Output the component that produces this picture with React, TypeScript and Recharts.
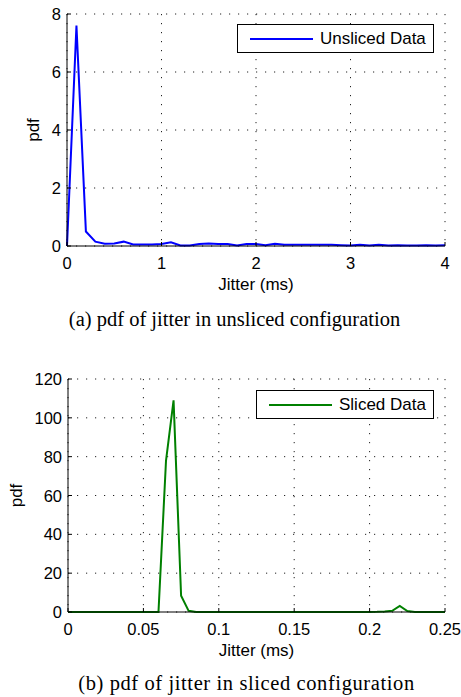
import React from 'react'
import {
    LineChart,
    Line,
    XAxis,
    YAxis,
    CartesianGrid,
    Legend,
} from 'recharts'

// (a) unsliced jitter, sampled every 0.1 ms
const unslicedJitter = [
    0, 0.1, 0.2, 0.3, 0.4, 0.5, 0.6, 0.7, 0.8, 0.9,
    1.0, 1.1, 1.2, 1.3, 1.4, 1.5, 1.6, 1.7, 1.8, 1.9,
    2.0, 2.1, 2.2, 2.3, 2.4, 2.5, 2.6, 2.7, 2.8, 2.9,
    3.0, 3.1, 3.2, 3.3, 3.4, 3.5, 3.6, 3.7, 3.8, 3.9, 4.0,
]
const unslicedPdf = [
    0, 7.6, 0.5, 0.15, 0.08, 0.09, 0.15, 0.05, 0.05, 0.05,
    0.07, 0.13, 0.02, 0.02, 0.07, 0.09, 0.07, 0.07, 0.02, 0.07,
    0.07, 0.03, 0.08, 0.04, 0.04, 0.04, 0.04, 0.04, 0.04, 0.03,
    0.02, 0.04, 0.02, 0.04, 0.02, 0.03, 0.02, 0.02, 0.03, 0.02, 0.03,
]
const unslicedXTicks = [0, 1, 2, 3, 4]
const unslicedYTicks = [0, 2, 4, 6, 8]

// (b) sliced jitter, sampled every 0.005 ms
const slicedJitter = [
    0, 0.005, 0.01, 0.015, 0.02, 0.025, 0.03, 0.035, 0.04, 0.045,
    0.05, 0.055, 0.06, 0.065, 0.07, 0.075, 0.08, 0.085, 0.09, 0.095,
    0.1, 0.105, 0.11, 0.115, 0.12, 0.125, 0.13, 0.135, 0.14, 0.145,
    0.15, 0.155, 0.16, 0.165, 0.17, 0.175, 0.18, 0.185, 0.19, 0.195,
    0.2, 0.205, 0.21, 0.215, 0.22, 0.225, 0.23, 0.235, 0.24, 0.245, 0.25,
]
const slicedPdf = [
    0, 0, 0, 0, 0, 0, 0, 0, 0, 0,
    0, 0, 0, 78, 109, 8.4, 0.6, 0, 0, 0,
    0, 0, 0, 0, 0, 0, 0, 0, 0, 0,
    0, 0, 0, 0, 0, 0, 0, 0, 0, 0,
    0, 0.1, 0.3, 0.6, 3.1, 0.5, 0, 0, 0, 0, 0,
]
const slicedXTicks = [0, 0.05, 0.1, 0.15, 0.2, 0.25]
const slicedYTicks = [0, 20, 40, 60, 80, 100, 120]

const unslicedData = unslicedJitter.map((x, i) => ({ x, pdf: unslicedPdf[i] }))
const slicedData = slicedJitter.map((x, i) => ({ x, pdf: slicedPdf[i] }))

const SANS = '"Liberation Sans", Arial, Helvetica, sans-serif'
const SERIF = '"Liberation Serif", "Times New Roman", serif'
const TICK_LEN = 4
const TICK_FONT = 16.5
const LABEL_FONT = 17

const BottomTick = (props: any) => {
    const { x, y, payload } = props
    return (
        <g>
            <line x1={x} x2={x} y1={y} y2={y - TICK_LEN} stroke="#000" strokeWidth={1} />
            <text x={x} y={y + 23} textAnchor="middle" fontFamily={SANS} fontSize={TICK_FONT} fill="#000">
                {String(payload.value)}
            </text>
        </g>
    )
}

const TopTick = (props: any) => {
    const { x, y } = props
    return <line x1={x} x2={x} y1={y} y2={y + TICK_LEN} stroke="#000" strokeWidth={1} />
}

const LeftTick = (props: any) => {
    const { x, y, payload } = props
    return (
        <g>
            <line x1={x} x2={x + TICK_LEN} y1={y} y2={y} stroke="#000" strokeWidth={1} />
            <text x={x - 6} y={y + 6} textAnchor="end" fontFamily={SANS} fontSize={TICK_FONT} fill="#000">
                {String(payload.value)}
            </text>
        </g>
    )
}

const RightTick = (props: any) => {
    const { x, y } = props
    return <line x1={x} x2={x - TICK_LEN} y1={y} y2={y} stroke="#000" strokeWidth={1} />
}

const legendBox = (label: string, color: string) => () => (
    <div
        style={{
            boxSizing: 'border-box',
            height: '100%',
            border: '1.5px solid #000',
            background: '#fff',
            display: 'flex',
            alignItems: 'center',
            fontFamily: SANS,
            fontSize: LABEL_FONT,
            color: '#000',
            whiteSpace: 'nowrap',
        }}
    >
        <svg width={82} height={10} style={{ flex: 'none' }}>
            <line x1={12} x2={75} y1={5} y2={5} stroke={color} strokeWidth={2} />
        </svg>
        <span>{label}</span>
    </div>
)

interface PanelProps {
    data: { x: number; pdf: number }[]
    xTicks: number[]
    yTicks: number[]
    color: string
    legend: string
    height: number
    margin: { top: number; right: number; bottom: number; left: number }
    legendPos: { left: number; top: number; width: number; height: number }
    pdfLabelX: number
}

const Panel: React.FC<PanelProps> = ({ data, xTicks, yTicks, color, legend, height, margin, legendPos, pdfLabelX }) => {
    const xMax = xTicks[xTicks.length - 1]
    const yMax = yTicks[yTicks.length - 1]
    const plotTop = margin.top
    const plotBottom = height - margin.bottom - 40
    const plotMid = (plotTop + plotBottom) / 2
    return (
        <LineChart width={461} height={height} data={data} margin={margin}>
            <CartesianGrid stroke="#222" strokeWidth={1} strokeDasharray="1.2 7.8" />
            <XAxis
                dataKey="x"
                type="number"
                domain={[0, xMax]}
                ticks={xTicks}
                height={40}
                tickSize={0}
                tickMargin={0}
                tickLine={false}
                axisLine={{ stroke: '#000' }}
                tick={<BottomTick />}
                interval={0}
                label={{ value: 'Jitter (ms)', position: 'insideBottom', offset: -4, fill: '#000', fontSize: LABEL_FONT, fontFamily: SANS }}
            />
            <XAxis
                xAxisId="top"
                orientation="top"
                dataKey="x"
                type="number"
                domain={[0, xMax]}
                ticks={xTicks}
                height={0}
                tickSize={0}
                tickMargin={0}
                tickLine={false}
                axisLine={{ stroke: '#000' }}
                tick={<TopTick />}
                interval={0}
            />
            <YAxis
                type="number"
                domain={[0, yMax]}
                ticks={yTicks}
                width={40}
                tickSize={0}
                tickMargin={0}
                tickLine={false}
                axisLine={{ stroke: '#000' }}
                tick={<LeftTick />}
                interval={0}
                label={{
                    content: () => (
                        <text
                            x={pdfLabelX}
                            y={plotMid}
                            transform={`rotate(-90 ${pdfLabelX} ${plotMid})`}
                            textAnchor="middle"
                            dominantBaseline="central"
                            fontFamily={SANS}
                            fontSize={LABEL_FONT}
                            fill="#000"
                        >
                            pdf
                        </text>
                    ),
                }}
            />
            <YAxis
                yAxisId="right"
                orientation="right"
                type="number"
                domain={[0, yMax]}
                ticks={yTicks}
                width={0}
                tickSize={0}
                tickMargin={0}
                tickLine={false}
                axisLine={{ stroke: '#000' }}
                tick={<RightTick />}
                interval={0}
            />
            {/* vertical + center + middle keeps the legend from eating plot space */}
            <Legend
                layout="vertical"
                align="center"
                verticalAlign="middle"
                content={legendBox(legend, color)}
                wrapperStyle={{ position: 'absolute', ...legendPos }}
            />
            <Line
                type="linear"
                dataKey="pdf"
                stroke={color}
                strokeWidth={2}
                dot={false}
                activeDot={false}
                isAnimationActive={false}
            />
        </LineChart>
    )
}

const captionStyle: React.CSSProperties = {
    position: 'absolute',
    left: 0,
    width: 461,
    textAlign: 'center',
    fontFamily: SERIF,
    fontSize: 20.5,
    color: '#000',
    lineHeight: '24px',
}

export default function App() {
    return (
        <div style={{ position: 'absolute', left: 0, top: 0, width: 461, height: 697, background: '#fff' }}>
            <div style={{ position: 'absolute', left: 0, top: 0 }}>
                <Panel
                    data={unslicedData}
                    xTicks={unslicedXTicks}
                    yTicks={unslicedYTicks}
                    color="#0000ff"
                    legend="Unsliced Data"
                    height={300}
                    margin={{ top: 14, right: 16, bottom: 14, left: 27 }}
                    legendPos={{ left: 237, top: 24, width: 197, height: 29 }}
                    pdfLabelX={33}
                />
            </div>
            <div style={{ ...captionStyle, top: 307, left: 4 }}>(a) pdf of jitter in unsliced configuration</div>
            <div style={{ position: 'absolute', left: 0, top: 340 }}>
                <Panel
                    data={slicedData}
                    xTicks={slicedXTicks}
                    yTicks={slicedYTicks}
                    color="#008000"
                    legend="Sliced Data"
                    height={320}
                    margin={{ top: 39, right: 16, bottom: 8, left: 28 }}
                    legendPos={{ left: 256, top: 50, width: 178, height: 29 }}
                    pdfLabelX={16}
                />
            </div>
            <div style={{ ...captionStyle, top: 671, left: 16, letterSpacing: 0.6 }}>(b) pdf of jitter in sliced configuration</div>
        </div>
    )
}
